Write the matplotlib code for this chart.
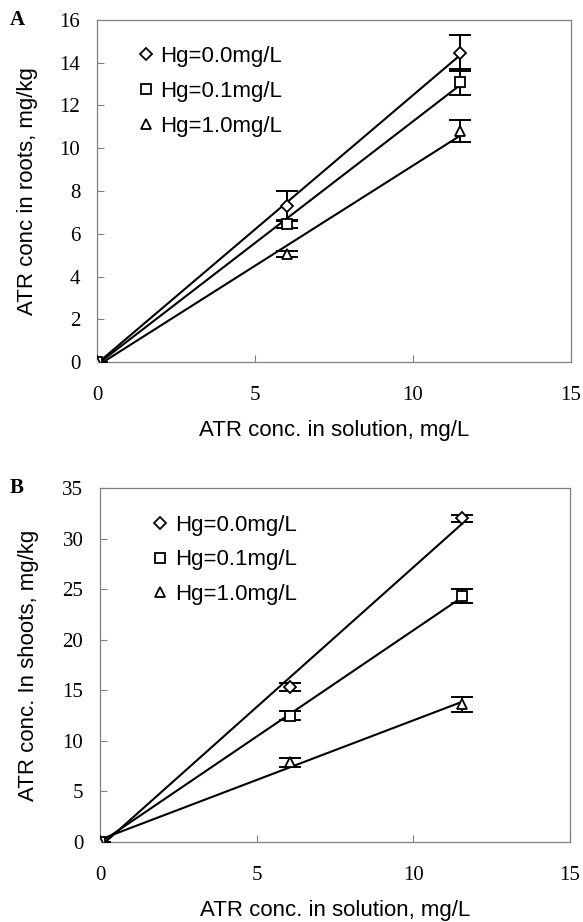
import numpy as np
import matplotlib
matplotlib.use('Agg')
import matplotlib.pyplot as plt

# Panel A: roots
xa = [0.0, 6.0, 11.5]
roots_hg00 = [0.0, 7.3, 14.45]
roots_hg01 = [0.0, 6.45, 13.1]
roots_hg10 = [0.0, 5.05, 10.8]
roots_err00 = [0.0, 0.7, 0.85]
roots_err01 = [0.0, 0.2, 0.6]
roots_err10 = [0.0, 0.15, 0.5]

# Panel B: shoots
xb = [0.0, 6.07, 11.56]
shoots_hg00 = [0.0, 15.3, 32.0]
shoots_hg01 = [0.0, 12.5, 24.3]
shoots_hg10 = [0.0, 7.9, 13.6]
shoots_err00 = [0.0, 0.4, 0.35]
shoots_err01 = [0.0, 0.45, 0.7]
shoots_err10 = [0.0, 0.45, 0.7]

labels = ['Hg=0.0mg/L', 'Hg=0.1mg/L', 'Hg=1.0mg/L']
markers = ['D', 's', '^']
msizes = [6, 6.5, 7.5]

SERIF = 'Liberation Serif'
SANS = 'Liberation Sans'
GREY = '#808080'

fig = plt.figure(figsize=(5.83, 9.22), dpi=100)


def panel(ax, x, ys, errs, ymax, ystep, ylabel, letter, leg_anchor, ylab_x, let_x):
    handles = []
    for y, e, m, ms, lab in zip(ys, errs, markers, msizes, labels):
        ax.errorbar(x, y, yerr=e, fmt='none', ecolor='black', elinewidth=1.4,
                    capsize=8, capthick=1.4, zorder=3)
        # excel-style linear trendline
        k, b = np.polyfit(x, y, 1)
        xx = np.array([min(x), max(x)])
        ax.plot(xx, k * xx + b, color='black', lw=1.5, zorder=2)
        h, = ax.plot(x, y, linestyle='none', marker=m, ms=ms,
                     mfc='white', mec='black', mew=1.3, zorder=4, label=lab)
        handles.append(h)
    ax.set_xlim(0, 15)
    ax.set_ylim(0, ymax)
    ax.set_xticks([0, 5, 10, 15])
    ax.set_yticks(np.arange(0, ymax + 0.1, ystep))
    ax.tick_params(direction='in', length=5, color=GREY, width=0.8)
    ax.tick_params(axis='x', pad=17)
    ax.tick_params(axis='y', pad=12)
    for t in ax.get_xticklabels() + ax.get_yticklabels():
        t.set_fontfamily(SERIF)
        t.set_fontsize(15)
    for s in ax.spines.values():
        s.set_color(GREY)
        s.set_linewidth(0.9)
    ax.set_xlabel('ATR conc. in solution, mg/L', fontfamily=SANS, fontsize=16, labelpad=11)
    ax.set_ylabel(ylabel, fontfamily=SANS, fontsize=16)
    ax.yaxis.set_label_coords(ylab_x, 0.5)
    ax.legend(handles=handles, loc='upper left', bbox_to_anchor=leg_anchor,
              frameon=False, handlelength=0.6, handletextpad=0.35,
              labelspacing=0.62, borderaxespad=0,
              prop={'family': SANS, 'size': 16})
    ax.text(let_x, 1.0, letter, transform=ax.transAxes, fontfamily=SERIF,
            fontweight='bold', fontsize=15, ha='center', va='center')


axA = fig.add_axes([97 / 583, 1 - 362 / 922, 474 / 583, 342 / 922])
panel(axA, xa, [roots_hg00, roots_hg01, roots_hg10],
      [roots_err00, roots_err01, roots_err10], 16, 2,
      'ATR conc in roots, mg/kg', 'A', (0.07, 0.95), -0.125, -0.169)

axB = fig.add_axes([100 / 583, 1 - 842 / 922, 470 / 583, 354 / 922])
panel(axB, xb, [shoots_hg00, shoots_hg01, shoots_hg10],
      [shoots_err00, shoots_err01, shoots_err10], 35, 5,
      'ATR conc. In shoots, mg/kg', 'B', (0.095, 0.95), -0.13, -0.177)

fig.savefig('out.png', dpi=100)
